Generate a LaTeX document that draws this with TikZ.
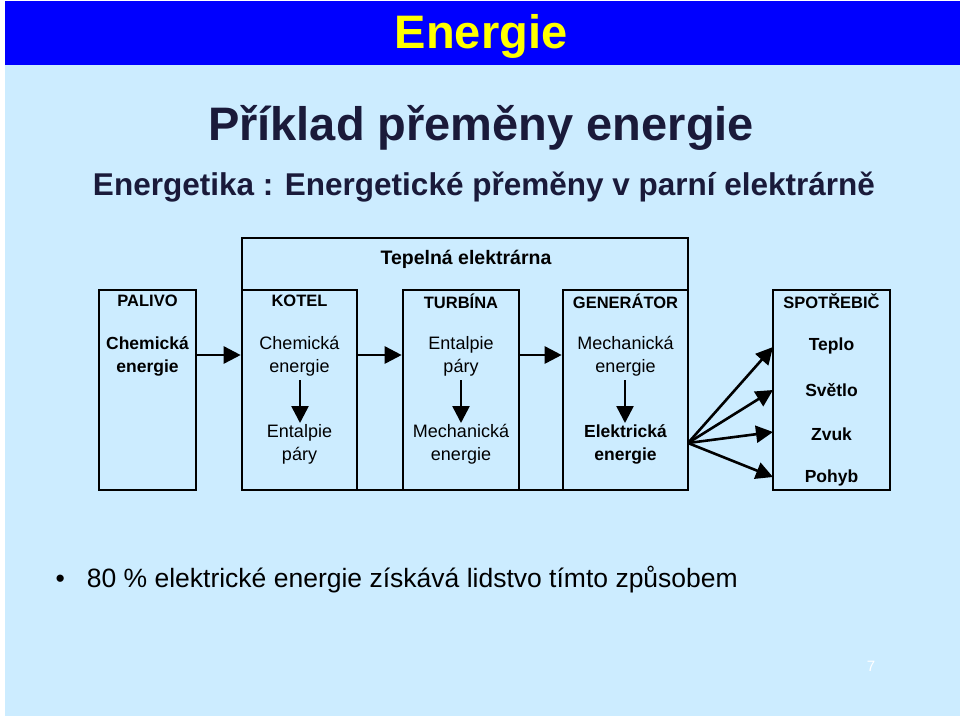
\documentclass[tikz,border=0pt]{standalone}
\usepackage{fontspec}
\setmainfont{Liberation Sans}
\usetikzlibrary{arrows.meta}
\definecolor{bgc}{HTML}{CCECFF}
\definecolor{band}{HTML}{0000FF}
\definecolor{ttl}{HTML}{FFFF00}
\definecolor{dark}{HTML}{1A1A3A}
\begin{document}
\begin{tikzpicture}[x=1pt,y=-1pt,
  box/.style={draw=black,line width=2.6pt},
  hd/.style={font=\fontsize{16.5}{22}\selectfont\bfseries,text=black},
  tx/.style={font=\fontsize{18}{23}\selectfont,align=center},
  bt/.style={font=\fontsize{17.5}{23}\selectfont\bfseries,align=center},
  arr/.style={line width=2.6pt,-{Triangle[length=17pt,width=17pt]}}]
\useasboundingbox (0,0) rectangle (960,716);
\fill[white] (0,0) rectangle (960,716);
\fill[bgc] (5,65) rectangle (960,716);
\fill[band] (5,1) rectangle (960,65);
\node[text=ttl,font=\fontsize{47}{50}\selectfont\bfseries] (t) at (481,36) {Energie};
\node[text=dark,font=\fontsize{47}{50}\selectfont\bfseries] (t2) at (481,128) {Příklad přeměny energie};
\node[text=dark,font=\fontsize{31.5}{34}\selectfont\bfseries] (t3) at (484,187) {Energetika : Energetické přeměny v parní elektrárně};
% boxes
\draw[box] (242,238) rectangle (688,490);
\node[box,minimum width=97,minimum height=200,inner sep=0] (pal) at (147.5,390) {};
\node[box,minimum width=115,minimum height=200,inner sep=0] (kot) at (299.5,390) {};
\node[box,minimum width=116,minimum height=200,inner sep=0] (tur) at (461,390) {};
\node[box,minimum width=125,minimum height=200,inner sep=0] (gen) at (625.5,390) {};
\node[box,minimum width=117,minimum height=200,inner sep=0] (spo) at (831.5,390) {};
\node[hd,font=\fontsize{19.5}{22}\selectfont\bfseries] (tep) at (466,259) {Tepelná elektrárna};
\node[hd] (h1) at (147.5,301) {PALIVO};
\node[hd] (h2) at (299.5,301) {KOTEL};
\node[hd] (h3) at (461,301) {TURBÍNA};
\node[hd] (h4) at (625.5,301) {GENERÁTOR};
\node[hd] (h5) at (831.5,301) {SPOTŘEBIČ};
\node[bt] (a1) at (147.5,356) {Chemická\\energie};
\node[tx] (b1) at (299.5,356) {Chemická\\energie};
\node[tx] (b2) at (299.5,444) {Entalpie\\páry};
\node[tx] (c1) at (461,356) {Entalpie\\páry};
\node[tx] (c2) at (461,444) {Mechanická\\energie};
\node[tx] (d1) at (625.5,356) {Mechanická\\energie};
\node[bt] (d2) at (625.5,444) {Elektrická\\energie};
\node[bt] (s1) at (831.5,346) {Teplo};
\node[bt] (s2) at (831.5,390) {Světlo};
\node[bt] (s3) at (831.5,434) {Zvuk};
\node[bt] (s4) at (831.5,478) {Pohyb};
% arrows
\draw[arr] (pal.east |- 0,355) -- (kot.west |- 0,355);
\draw[arr] (kot.east |- 0,355) -- (tur.west |- 0,355);
\draw[arr] (tur.east |- 0,355) -- (gen.west |- 0,355);
\draw[arr] (300,380) coordinate (v1) -- (300,423);
\draw[arr] (461,380) coordinate (v2) -- (461,423);
\draw[arr] (625,380) coordinate (v3) -- (625,423);
\coordinate (f) at (688,443);
\draw[arr] (f) -- (773,347);
\draw[arr] (f) -- (773,390);
\draw[arr] (f) -- (773,432);
\draw[arr] (f) -- (773,477);
\node[font=\fontsize{26.5}{30}\selectfont,anchor=west] (bl) at (52,580) {•\hspace{22pt}80 \% elektrické energie získává lidstvo tímto způsobem};
\node[text=white,font=\fontsize{15}{16}\selectfont\rmfamily] (pg) at (871,666) {7};
\end{tikzpicture}
\end{document}
